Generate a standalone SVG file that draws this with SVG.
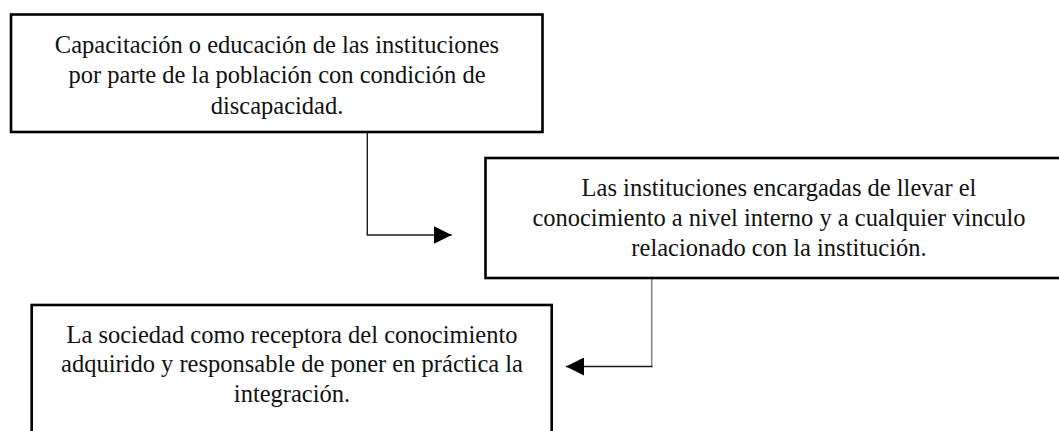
<svg xmlns="http://www.w3.org/2000/svg" width="1059" height="431" viewBox="0 0 1059 431">
  <style>
    .box { fill: #ffffff; stroke: #000000; stroke-width: 2.6; }
    .lbl { font-family: "Liberation Serif", "Times New Roman", serif; font-size: 24.5px; fill: #111111; text-anchor: middle; }
    .conn { fill: none; stroke: #1a1a1a; stroke-width: 1.4; }
    .conn-grey { fill: none; stroke: #8a8a8a; stroke-width: 1.6; }
  </style>
  <defs>
    <marker id="arrow" viewBox="0 0 18 18" refX="18" refY="9" markerWidth="18" markerHeight="18" markerUnits="userSpaceOnUse" orient="auto">
      <path d="M0,0 L18,9 L0,18 Z" fill="#000000"/>
    </marker>
  </defs>
  <rect x="0" y="0" width="1059" height="431" fill="#ffffff"/>

  <g id="connectors">
    <path class="conn" d="M367.3,132 V235 H451.7" marker-end="url(#arrow)"/>
    <path class="conn-grey" d="M651.7,278 V366.5"/>
    <path class="conn" d="M652.5,366.5 H566" marker-end="url(#arrow)"/>
  </g>

  <g id="node1">
    <rect class="box" x="11" y="14.5" width="531.5" height="117.5"/>
    <text class="lbl" x="277" y="52.5">Capacitación o educación de las instituciones</text>
    <text class="lbl" x="277" y="83">por parte de la población con condición de</text>
    <text class="lbl" x="277" y="113.5">discapacidad.</text>
  </g>

  <g id="node2">
    <rect class="box" x="485.5" y="158" width="590" height="120"/>
    <text class="lbl" x="779" y="196">Las instituciones encargadas de llevar el</text>
    <text class="lbl" x="779" y="226">conocimiento a nivel interno y a cualquier vinculo</text>
    <text class="lbl" x="779" y="255.5">relacionado con la institución.</text>
  </g>

  <g id="node3">
    <rect class="box" x="31.7" y="305" width="520" height="140"/>
    <text class="lbl" x="292" y="342.7">La sociedad como receptora del conocimiento</text>
    <text class="lbl" x="292" y="372">adquirido y responsable de poner en práctica la</text>
    <text class="lbl" x="292" y="401.7">integración.</text>
  </g>
</svg>
